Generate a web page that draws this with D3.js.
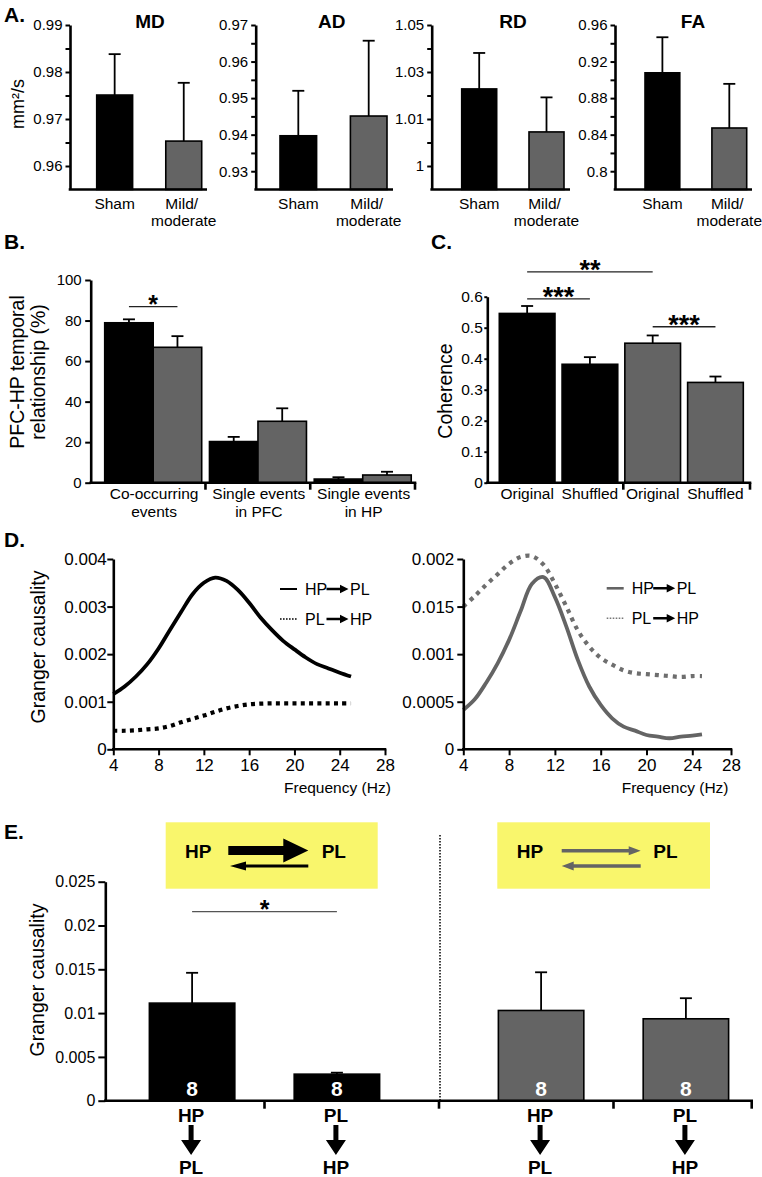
<!DOCTYPE html>
<html><head><meta charset="utf-8">
<script src="https://cdn.jsdelivr.net/npm/d3@7"></script>
<style>body{margin:0;background:#fff;} svg{display:block;font-family:"Liberation Sans",Arial,Helvetica,sans-serif;}</style>
</head><body><svg id="c" width="762" height="1177"></svg>
<script>
// ---------------- DATA ----------------
const groupsA = ["Sham", "Mild/moderate"];
const metricsA = ["MD", "AD", "RD", "FA"];
const mdMean = [0.9751, 0.9653], mdSem = [0.0087, 0.0124];
const adMean = [0.9397, 0.9451], adSem = [0.0123, 0.0206];
const rdMean = [1.0228, 1.0045], rdSem = [0.0153, 0.0147];
const faMean = [0.9077, 0.8473], faSem = [0.0389, 0.0483];
const mdTicks = [0.96, 0.97, 0.98, 0.99], mdTickLabels = ["0.96", "0.97", "0.98", "0.99"], mdMinor = [0.965, 0.975, 0.985];
const adTicks = [0.93, 0.94, 0.95, 0.96, 0.97], adTickLabels = ["0.93", "0.94", "0.95", "0.96", "0.97"], adMinor = [0.935, 0.945, 0.955, 0.965];
const rdTicks = [0.99, 1.01, 1.03, 1.05], rdTickLabels = ["1", "1.01", "1.03", "1.05"], rdMinor = [1.00, 1.02, 1.04];
const faTicks = [0.80, 0.84, 0.88, 0.92, 0.96], faTickLabels = ["0.8", "0.84", "0.88", "0.92", "0.96"], faMinor = [0.82, 0.86, 0.90, 0.94];
const mdDomain = [0.955, 0.99], adDomain = [0.925, 0.97], rdDomain = [0.98, 1.05], faDomain = [0.78, 0.96];

const catsB = ["Co-occurring|events", "Single events|in PFC", "Single events|in HP"];
const bSham = [78.9, 20.3, 1.8], bShamSem = [1.7, 2.3, 0.9];
const bMild = [66.8, 30.3, 3.8], bMildSem = [5.5, 6.4, 1.6];
const bTicks = [0, 20, 40, 60, 80, 100];

const catsC = ["Original", "Shuffled", "Original", "Shuffled"];
const groupC = ["sham", "sham", "mild", "mild"];
const cMean = [0.546, 0.382, 0.450, 0.3235];
const cSem = [0.024, 0.023, 0.025, 0.019];
const cTicks = [0, 0.1, 0.2, 0.3, 0.4, 0.5, 0.6], cTickLabels = ["0", "0.1", "0.2", "0.3", "0.4", "0.5", "0.6"];

const freqs = [4, 5, 6, 7, 8, 9, 10, 11, 12, 13, 14, 15, 16, 17, 18, 19, 20, 21, 22, 23, 24, 25];
const shamHP2PL = [0.00116, 0.00132, 0.00153, 0.00179, 0.00212, 0.00251, 0.00289, 0.00326, 0.00350, 0.00361, 0.00354, 0.00335, 0.00308, 0.00277, 0.00251, 0.00228, 0.00210, 0.00193, 0.00179, 0.00170, 0.00161, 0.00153];
const shamPL2HP = [0.00039, 0.00039, 0.00040, 0.00042, 0.00044, 0.00049, 0.00057, 0.00064, 0.00071, 0.00079, 0.00086, 0.00091, 0.000945, 0.00096, 0.000965, 0.000965, 0.000965, 0.000965, 0.000965, 0.000965, 0.000965, 0.000965];
const mildHP2PL = [0.000413, 0.000525, 0.00070, 0.000904, 0.00115, 0.00145, 0.00174, 0.00181, 0.00160, 0.00129, 0.00094, 0.00066, 0.000466, 0.000326, 0.000238, 0.000196, 0.00015, 0.000133, 0.000116, 0.000133, 0.000144, 0.000158];
const mildPL2HP = [0.00150, 0.00161, 0.00173, 0.00184, 0.00195, 0.00202, 0.00203, 0.00194, 0.00174, 0.00150, 0.00125, 0.00108, 0.00096, 0.00089, 0.00083, 0.00080, 0.00079, 0.00078, 0.00077, 0.00076, 0.00077, 0.00077];
const freqTicks = [4, 8, 12, 16, 20, 24, 28];
const dlTicks = [0, 0.001, 0.002, 0.003, 0.004], dlTickLabels = ["0", "0.001", "0.002", "0.003", "0.004"];
const drTicks = [0, 0.0005, 0.001, 0.0015, 0.002], drTickLabels = ["0", "0.0005", "0.001", "0.015", "0.002"];

const groupsE = ["sham", "mild"];
const dirE = ["HP→PL", "PL→HP"];
const eFrom = ["HP", "PL", "HP", "PL"], eTo = ["PL", "HP", "PL", "HP"];
const eGroup = ["sham", "sham", "mild", "mild"], eDir = [0, 1, 0, 1];
const eMean = [0.01114, 0.00303, 0.0103, 0.00935];
const eSem = [0.00346, 0.00017, 0.00436, 0.00235];
const eN = [8, 8, 8, 8];
const eTicks = [0, 0.005, 0.01, 0.015, 0.02, 0.025], eTickLabels = ["0", "0.005", "0.01", "0.015", "0.02", "0.025"];

// ---------------- STYLE ----------------
const BLACK = "#000", GRAY = "#646464", YELLOW = "#f9f66c";
const colorOf = g => g === "sham" ? BLACK : GRAY;
const svg = d3.select("#c");

function styleAxis(g, fs) {
  g.attr("font-size", fs).attr("font-family", null);
  g.select(".domain").attr("stroke-width", 2.6).attr("stroke", "#000");
  g.selectAll(".tick line").attr("stroke-width", 2).attr("stroke", "#000");
  g.selectAll(".tick text").attr("fill", "#000");
}
function yAxis(scale, x, vals, labels, o) {
  const g = svg.append("g").attr("transform", `translate(${x},0)`);
  if (o.minor) {
    const gm = svg.append("g").attr("transform", `translate(${x},0)`);
    gm.call(d3.axisLeft(scale).tickValues(o.minor).tickFormat("").tickSize(o.tick).tickSizeOuter(0));
    gm.select(".domain").remove();
    gm.selectAll(".tick line").attr("stroke-width", 2).attr("stroke", "#000");
  }
  g.call(d3.axisLeft(scale).tickValues(vals).tickFormat((d, i) => labels[i]).tickSize(o.tick).tickSizeOuter(0).tickPadding(o.pad));
  styleAxis(g, o.fs);
  return g;
}
function hLine(x1, x2, y, w, col) {
  svg.append("line").attr("x1", x1).attr("x2", x2).attr("y1", y).attr("y2", y)
    .attr("stroke", col || "#000").attr("stroke-width", w || 2.6);
}
function downTick(x, y, len) {
  svg.append("line").attr("x1", x).attr("x2", x).attr("y1", y).attr("y2", y + len).attr("stroke", "#000").attr("stroke-width", 2.6);
}
function errBar(x, y0, y1, cap) {
  svg.append("line").attr("x1", x).attr("x2", x).attr("y1", y0).attr("y2", y1).attr("stroke", "#000").attr("stroke-width", 1.8);
  svg.append("line").attr("x1", x - cap).attr("x2", x + cap).attr("y1", y1).attr("y2", y1).attr("stroke", "#000").attr("stroke-width", 1.8);
}
function text(x, y, s, o) {
  o = o || {};
  const t = svg.append("text").attr("x", x).attr("y", y).attr("dy", "0.35em")
    .attr("font-size", o.fs || 16).attr("text-anchor", o.anchor || "middle")
    .attr("font-weight", o.bold ? "bold" : null).attr("fill", o.fill || "#000").text(s);
  if (o.rot) t.attr("transform", `rotate(-90,${x},${y})`);
  return t;
}
function sig(x1, x2, y, label, fs, col, w) {
  hLine(x1, x2, y, w || 1.3, col || "#222");
  svg.append("text").attr("x", (x1 + x2) / 2).attr("y", y + fs * 0.27).attr("text-anchor", "middle")
    .attr("font-size", fs).attr("font-weight", "bold").text(label);
}
function hArrow(x1, x2, y, sw, hl, hw, col) {
  const s = Math.sign(x2 - x1), xh = x2 - s * hl;
  const pts = [[x1, y - sw / 2], [xh, y - sw / 2], [xh, y - hw / 2], [x2, y], [xh, y + hw / 2], [xh, y + sw / 2], [x1, y + sw / 2]];
  svg.append("path").attr("d", "M" + pts.join("L") + "Z").attr("fill", col || "#000");
}
function vArrow(x, y1, y2, sw, hl, hw, col) {
  const yh = y2 - hl;
  const pts = [[x - sw / 2, y1], [x - sw / 2, yh], [x - hw / 2, yh], [x, y2], [x + hw / 2, yh], [x + sw / 2, yh], [x + sw / 2, y1]];
  svg.append("path").attr("d", "M" + pts.join("L") + "Z").attr("fill", col || "#000");
}

// ---------------- PANEL A ----------------
text(4, 15, "A.", {fs: 21, bold: true, anchor: "start"});
text(18, 104, "mm²/s", {fs: 18, rot: true});
const panelsA = [
  {name: metricsA[0], mean: mdMean, sem: mdSem, dom: mdDomain, ticks: mdTicks, labels: mdTickLabels, minor: mdMinor},
  {name: metricsA[1], mean: adMean, sem: adSem, dom: adDomain, ticks: adTicks, labels: adTickLabels, minor: adMinor},
  {name: metricsA[2], mean: rdMean, sem: rdSem, dom: rdDomain, ticks: rdTicks, labels: rdTickLabels, minor: rdMinor},
  {name: metricsA[3], mean: faMean, sem: faSem, dom: faDomain, ticks: faTicks, labels: faTickLabels, minor: faMinor}
];
const layoutA = [
  {ax: 70, r: [96.7, 201.7], end: 207, tx: 150},
  {ax: 255.7, r: [280, 387], end: 393, tx: 331.7},
  {ax: 431.7, r: [461.7, 564], end: 570, tx: 513},
  {ax: 615, r: [645, 746.7], end: 752, tx: 693}
];
panelsA.forEach((p, k) => {
  const L = layoutA[k];
  const y = d3.scaleLinear().domain(p.dom).range([189.5, 25]);
  const x = d3.scaleBand().domain(groupsA).range(L.r).paddingInner(0.48);
  text(L.tx, 21.7, p.name, {fs: 19, bold: true});
  groupsA.forEach((g, i) => {
    const x0 = x(g), bw = x.bandwidth();
    svg.append("rect").attr("x", x0).attr("y", y(p.mean[i])).attr("width", bw).attr("height", y(p.dom[0]) - y(p.mean[i]))
      .attr("fill", i === 0 ? BLACK : GRAY).attr("stroke", "#000").attr("stroke-width", 1.6);
    errBar(x0 + bw / 2, y(p.mean[i]), y(p.mean[i] + p.sem[i]), 6);
    const parts = g.split("/");
    if (parts.length === 1) text(x0 + bw / 2, 204, g, {fs: 15.5});
    else { text(x0 + bw / 2 - 2, 204, parts[0] + "/", {fs: 15.5}); text(x0 + bw / 2, 221, parts[1], {fs: 15.5}); }
  });
  hLine(L.ax - 1.3, L.end, 189.5);
  yAxis(y, L.ax, p.ticks, p.labels, {fs: 15, tick: 4.5, pad: 3, minor: p.minor});
});

// ---------------- PANEL B ----------------
text(4, 241.7, "B.", {fs: 21, bold: true, anchor: "start"});
text(17, 372, "PFC-HP temporal", {fs: 19.5, rot: true});
text(38, 372, "relationship (%)", {fs: 19.5, rot: true});
const yB = d3.scaleLinear().domain([0, 100]).range([482.7, 280]);
const xB = d3.scaleBand().domain(catsB).range([100.7, 415]).padding(0);
const xBi = d3.scaleBand().domain(["sham", "mild"]).range([4, 101]).padding(0);
catsB.forEach((c, i) => {
  [["sham", bSham[i], bShamSem[i]], ["mild", bMild[i], bMildSem[i]]].forEach(([g, m, s]) => {
    const x0 = xB(c) + xBi(g), bw = xBi.bandwidth();
    svg.append("rect").attr("x", x0).attr("y", yB(m)).attr("width", bw).attr("height", yB(0) - yB(m))
      .attr("fill", colorOf(g)).attr("stroke", "#000").attr("stroke-width", 1.6);
    errBar(x0 + bw / 2, yB(m), yB(m + s), 6);
  });
  const [l1, l2] = c.split("|");
  const cx = xB(c) + xB.bandwidth() / 2 + 1;
  text(cx, 493.5, l1, {fs: 15.5});
  text(cx, 511.5, l2, {fs: 15.5});
  if (i > 0) downTick(xB(c), 482.7, 7);
});
downTick(xB.range()[1], 482.7, 7);
hLine(89.4, xB.range()[1] + 1.3, 482.7);
yAxis(yB, 90.7, bTicks, bTicks.map(String), {fs: 15, tick: 5.5, pad: 3.5});
sig(xB(catsB[0]) + xBi("sham") + xBi.bandwidth() / 2, xB(catsB[0]) + xBi("mild") + xBi.bandwidth() / 2, 306.7, "*", 25);

// ---------------- PANEL C ----------------
text(431, 241.7, "C.", {fs: 21, bold: true, anchor: "start"});
text(445, 391, "Coherence", {fs: 19.5, rot: true});
const yC = d3.scaleLinear().domain([0, 0.6]).range([482.7, 296.7]);
const idxC = catsC.map((d, i) => i);
const xC = d3.scaleBand().domain(idxC).range([499.3, 743.3]).paddingInner(0.113);
idxC.forEach(i => {
  const x0 = xC(i), bw = xC.bandwidth();
  svg.append("rect").attr("x", x0).attr("y", yC(cMean[i])).attr("width", bw).attr("height", yC(0) - yC(cMean[i]))
    .attr("fill", colorOf(groupC[i])).attr("stroke", "#000").attr("stroke-width", 1.6);
  errBar(x0 + bw / 2, yC(cMean[i]), yC(cMean[i] + cSem[i]), 6);
  text(x0 + bw / 2, 494, catsC[i], {fs: 15.5});
});
const cMid = i => xC(i) + xC.bandwidth() / 2;
downTick((xC(1) + xC.bandwidth() + xC(2)) / 2 + 2, 482.7, 7);
downTick(750, 482.7, 7);
hLine(486, 751.3, 482.7);
yAxis(yC, 487.3, cTicks, cTickLabels, {fs: 15.5, tick: 3, pad: 1.5});
const sigC = [{a: 0, b: 2, label: "**", level: 0.68}, {a: 0, b: 1, label: "***", level: 0.593}, {a: 2, b: 3, label: "***", level: 0.503}];
sigC.forEach(s => sig(cMid(s.a), cMid(s.b), yC(s.level), s.label, 27));

// ---------------- PANEL D ----------------
text(4, 539.3, "D.", {fs: 21, bold: true, anchor: "start"});
text(38.5, 647, "Granger causality", {fs: 19.5, rot: true});
const xDL = d3.scaleLinear().domain([4, 28]).range([113.3, 385]);
const yDL = d3.scaleLinear().domain([0, 0.004]).range([749.3, 559]);
const xDR = d3.scaleLinear().domain([4, 24, 28]).range([463.3, 692.3, 731]);
const yDR = d3.scaleLinear().domain([0, 0.002]).range([749.3, 559]);

function drawCurve(xs, ys, vals, col, w, dash) {
  const line = d3.line().x((d, i) => xs(freqs[i])).y(d => ys(d)).curve(d3.curveCatmullRom.alpha(0.5));
  svg.append("path").attr("d", line(vals)).attr("fill", "none").attr("stroke", col).attr("stroke-width", w)
    .attr("stroke-dasharray", dash || null).attr("stroke-linejoin", "round");
}
drawCurve(xDL, yDL, shamPL2HP, BLACK, 4.2, "4,4.3");
drawCurve(xDL, yDL, shamHP2PL, BLACK, 3.8);
drawCurve(xDR, yDR, mildPL2HP, "#6e6e6e", 4.2, "4,5");
drawCurve(xDR, yDR, mildHP2PL, GRAY, 3.8);

function dAxes(xs, ys, ax, ticks, labels, pad) {
  const gx = svg.append("g").attr("transform", `translate(0,${ys(0)})`);
  gx.call(d3.axisBottom(xs).tickValues(freqTicks).tickFormat(d3.format("d")).tickSize(6).tickSizeOuter(0).tickPadding(4));
  styleAxis(gx, 17);
  gx.select(".domain").attr("d", `M${ax - 1.3},0H${xs(28) + 1.3}`);
  yAxis(ys, ax, ticks, labels, {fs: 17, tick: 6, pad: pad});
}
dAxes(xDL, yDL, 113.3, dlTicks, dlTickLabels, 0.5);
dAxes(xDR, yDR, 463.3, drTicks, drTickLabels, 3);
text(284, 787.5, "Frequency (Hz)", {fs: 15.5, anchor: "start"});
text(621.7, 787.5, "Frequency (Hz)", {fs: 15.5, anchor: "start"});

// legends
function legend(x0, y, sampleCol, dash, sw, a, b) {
  svg.append("line").attr("x1", x0).attr("x2", x0 + 17).attr("y1", y).attr("y2", y)
    .attr("stroke", sampleCol).attr("stroke-width", sw).attr("stroke-dasharray", dash || null);
  text(x0 + 25, y, a, {fs: 16, anchor: "start"});
  hArrow(x0 + 46.5, x0 + 68.5, y, 2.6, 8.5, 8.5, "#000");
  text(x0 + 70, y, b, {fs: 16, anchor: "start"});
}
legend(280, 589, BLACK, null, 2, "HP", "PL");
legend(280, 619, BLACK, "1.6,1.4", 1.6, "PL", "HP");
legend(606.7, 588.3, GRAY, null, 2.6, "HP", "PL");
legend(606.7, 618.3, "#777", "1.6,1.4", 1.6, "PL", "HP");

// ---------------- PANEL E ----------------
text(4, 831.7, "E.", {fs: 21, bold: true, anchor: "start"});
text(36.7, 980, "Granger causality", {fs: 19.5, rot: true});
const yE = d3.scaleLinear().domain([0, 0.025]).range([1100.7, 881.7]);
const xE = d3.scaleBand().domain(groupsE).range([90, 788]).padding(0);
const xEi = d3.scaleBand().domain([0, 1]).range([0, xE.step()]).padding(0.41);

// yellow schematic boxes
svg.append("rect").attr("x", 165.7).attr("y", 822.3).attr("width", 212).attr("height", 66.4).attr("fill", YELLOW);
svg.append("rect").attr("x", 497.3).attr("y", 822.3).attr("width", 212.7).attr("height", 66.4).attr("fill", YELLOW);
text(185, 851.7, "HP", {fs: 19, bold: true, anchor: "start"});
text(321.7, 851.7, "PL", {fs: 19, bold: true, anchor: "start"});
hArrow(228.3, 308.3, 850.5, 9, 25, 24, "#000");
hArrow(308.3, 230, 866, 3, 16, 9, "#000");
text(516.7, 851.7, "HP", {fs: 19, bold: true, anchor: "start"});
text(653.3, 851.7, "PL", {fs: 19, bold: true, anchor: "start"});
hArrow(561.7, 640.7, 850.7, 3.4, 12, 9, GRAY);
hArrow(640.7, 561.7, 866, 3.4, 12, 9, GRAY);

// dotted separator
const sepX = xE("mild");
svg.append("line").attr("x1", sepX + 1).attr("x2", sepX + 1).attr("y1", 835).attr("y2", 1100)
  .attr("stroke", "#000").attr("stroke-width", 1.5).attr("stroke-dasharray", "1.6,1.4");

eMean.forEach((m, i) => {
  const x0 = xE(eGroup[i]) + xEi(eDir[i]), bw = xEi.bandwidth(), cx = x0 + bw / 2;
  svg.append("rect").attr("x", x0).attr("y", yE(m)).attr("width", bw).attr("height", yE(0) - yE(m))
    .attr("fill", colorOf(eGroup[i])).attr("stroke", "#000").attr("stroke-width", 1.6);
  errBar(cx, yE(m), yE(m + eSem[i]), 6);
  text(cx, 1089, String(eN[i]), {fs: 21, bold: true, fill: "#fff"});
  text(cx - 1, 1115, eFrom[i], {fs: 19, bold: true});
  vArrow(cx - 1, 1125, 1155, 5, 15, 20, "#000");
  text(cx - 1, 1167.5, eTo[i], {fs: 19, bold: true});
});
groupsE.forEach(g => downTick(xE(g) + xE.bandwidth() / 2, 1100.7, 8));
downTick(sepX, 1100.7, 8);
downTick(751.7, 1100.7, 8);
hLine(104, 753, 1100.7);
yAxis(yE, 105.3, eTicks, eTickLabels, {fs: 16, tick: 7, pad: 3});
sig(xE("sham") + xEi(0) + xEi.bandwidth() / 2, xE("sham") + xEi(1) + xEi.bandwidth() / 2, 911.7, "*", 25, "#555", 1.2);
</script></body></html>
